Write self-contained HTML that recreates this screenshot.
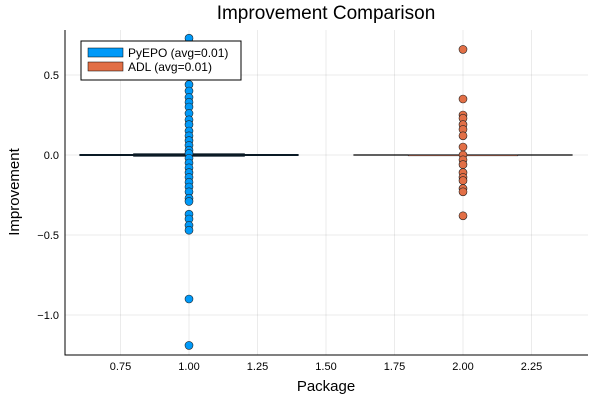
<!DOCTYPE html>
<html><head><meta charset="utf-8"><style>body{margin:0;background:#fff}svg{font-family:"Liberation Sans",sans-serif}</style></head>
<body>
<svg id="c" width="600" height="400" xmlns="http://www.w3.org/2000/svg"></svg>
<script>
const xTicks=[0.75,1.0,1.25,1.5,1.75,2.0,2.25];
const xTickLabels=["0.75","1.00","1.25","1.50","1.75","2.00","2.25"];
const yTicks=[-1.0,-0.5,0.0,0.5];
const yTickLabels=["−1.0","−0.5","0.0","0.5"];
const seriesNames=["PyEPO (avg=0.01)","ADL (avg=0.01)"];
const pyepoValues=[0.73,0.68,0.62,0.55,0.44,0.40,0.36,0.33,0.30,0.26,0.22,0.19,0.15,0.12,0.09,0.06,0.03,0.01,-0.02,-0.05,-0.08,-0.11,-0.14,-0.17,-0.20,-0.23,-0.27,-0.29,-0.37,-0.40,-0.44,-0.47,-0.90,-1.19];
const adlValues=[0.66,0.35,0.25,0.23,0.19,0.16,0.12,0.05,0.0,-0.03,-0.06,-0.11,-0.14,-0.16,-0.21,-0.23,-0.38];
const boxStats=[{x:1,q1:-0.004,med:0,q3:0.004,lo:0,hi:0},{x:2,q1:-0.001,med:0,q3:0.001,lo:0,hi:0}];
const colors=["#009af9","#e26f46"];
const L=65,R=588,T=30,B=355;
const X=v=>189+(v-1)*274, Y=v=>155-v*160;
const svg=document.getElementById('c');const NS="http://www.w3.org/2000/svg";
function el(t,a,txt){const e=document.createElementNS(NS,t);for(const k in a)e.setAttribute(k,a[k]);if(txt!=null)e.textContent=txt;svg.appendChild(e);return e;}
xTicks.forEach((t,i)=>{let g=el('line',{x1:X(t),x2:X(t),y1:T,y2:B,stroke:'#000','stroke-opacity':0.08});

let s=el('text',{x:X(t),y:B+15,'text-anchor':'middle','font-size':11},xTickLabels[i]);
});
yTicks.forEach((t,i)=>{let g=el('line',{x1:L,x2:R,y1:Y(t),y2:Y(t),stroke:'#000','stroke-opacity':0.08});

let s=el('text',{x:L-6,y:Y(t)+4,'text-anchor':'end','font-size':11},yTickLabels[i]);
});
let ax=el('path',{d:`M${L},${T}V${B}H${R}`,fill:'none',stroke:'#000'});

boxStats.forEach((b,i)=>{
 let w=el('line',{x1:X(b.x-0.4),x2:X(b.x+0.4),y1:Y(b.med),y2:Y(b.med),stroke:i==0?'#0a1a25':'#000','stroke-width':i==0?2:1.2});
 
 let r=el('rect',{x:X(b.x-0.2),y:Y(b.q3),width:X(b.x+0.2)-X(b.x-0.2),height:Math.max(1,Y(b.q1)-Y(b.q3)),fill:colors[i],stroke:'#0a1a25','stroke-width':i==0?2:0.5});
 
});
[[pyepoValues,1],[adlValues,2]].forEach(([vals,xv],i)=>vals.forEach(v=>{
 let c=el('circle',{cx:X(xv),cy:Y(v),r:4,fill:colors[i],stroke:'#222','stroke-width':0.6});
 }));
let lg=el('rect',{x:81,y:41,width:160,height:39,fill:'#fff',stroke:'#000'});

seriesNames.forEach((n,i)=>{let s=el('rect',{x:88,y:48+i*14,width:35,height:9,fill:colors[i],stroke:'#000','stroke-width':0.5});

let t=el('text',{x:128,y:57+i*14,'font-size':12},n);
});
let ti=el('text',{x:326,y:19,'text-anchor':'middle','font-size':19},'Improvement Comparison');

let xl=el('text',{x:326,y:391,'text-anchor':'middle','font-size':15},'Package');

let yl=el('text',{x:0,y:0,'text-anchor':'middle','font-size':15,transform:'translate(19,192) rotate(-90)'},'Improvement');

</script>
</body></html>
